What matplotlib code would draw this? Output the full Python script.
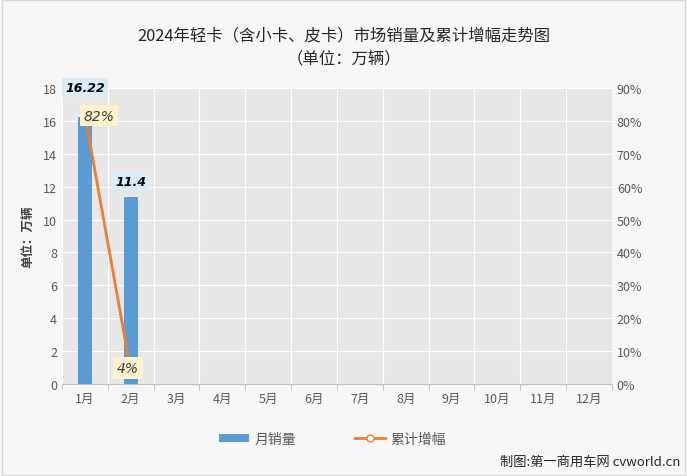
import numpy as np
import matplotlib.pyplot as plt
from matplotlib.lines import Line2D
from matplotlib.patches import Patch

plt.rcParams['font.family'] = ['Noto Sans CJK SC', 'DejaVu Sans']

# Data
Months = ['1月', '2月', '3月', '4月', '5月', '6月', '7月', '8月', '9月', '10月', '11月', '12月']
Sales = [16.22, 11.4]
Growth = [82, 4]
SalesLabels = ['16.22', '11.4']
GrowthLabels = ['82%', '4%']

BarColor = '#5b9bd5'
LineColor = '#ed7d31'

Figure = plt.figure(figsize=(6.87, 4.77), dpi=100, facecolor='#f7f7f7')
Axes = Figure.add_axes([0.0902, 0.193, 0.8006, 0.62])
Axes.set_facecolor('#e7e7e7')

x = np.arange(len(Months))
Axes.bar(x[:len(Sales)], Sales, width=0.3, color=BarColor, zorder=3)
Axes.set_xlim(-0.5, 11.5)
Axes.set_ylim(0, 18)
Axes.set_yticks(range(0, 19, 2))
Axes.set_xticks(x)
Axes.set_xticklabels(Months, fontsize=9, color='#595959')
Axes.tick_params(axis='y', labelsize=9, colors='#595959', length=0)
Axes.tick_params(axis='x', length=0, pad=6)
Axes.set_xticks(np.arange(-0.5, 12, 1), minor=True)
Axes.tick_params(axis='x', which='minor', length=4, color='#bfbfbf')
Axes.grid(True, which='major', axis='y', color='#ffffff', linewidth=0.8, zorder=0)
Axes.grid(True, which='minor', axis='x', color='#ffffff', linewidth=0.8, zorder=0)
for s in ['top', 'right', 'left']:
    Axes.spines[s].set_visible(False)
Axes.spines['bottom'].set_color('#bfbfbf')
Axes.set_ylabel('单位：万辆', fontsize=9, fontweight='bold', color='#404040', labelpad=6)

Axes2 = Axes.twinx()
Axes2.plot(x[:len(Growth)], Growth, color=LineColor, linewidth=2, marker='o',
           markersize=5, markerfacecolor='white', markeredgecolor=LineColor, zorder=4)
Axes2.set_ylim(0, 90)
Axes2.set_yticks(range(0, 91, 10))
Axes2.set_yticklabels([f'{v}%' for v in range(0, 91, 10)])
Axes2.tick_params(axis='y', labelsize=9, colors='#595959', length=0)
for s in Axes2.spines.values():
    s.set_visible(False)

# Data labels
for i, (v, t) in enumerate(zip(Sales, SalesLabels)):
    Axes.annotate(t, (x[i], v), xytext=(0, 6 if i else 17), textcoords='offset points',
                  ha='center', va='bottom', fontsize=9, fontweight='bold',
                  style='italic', family='DejaVu Sans', color='black', zorder=6,
                  annotation_clip=False,
                  bbox=dict(boxstyle='square,pad=0.25', facecolor='#ddebf7', edgecolor='none'))
Axes2.annotate(GrowthLabels[0], (x[0], Growth[0]), xytext=(-1, -1), textcoords='offset points',
               ha='left', va='center', fontsize=10, style='italic', family='DejaVu Sans',
               color='#404040', zorder=7,
               bbox=dict(boxstyle='square,pad=0.25', facecolor='#fff2cc', edgecolor='none'))
Axes2.annotate(GrowthLabels[1], (x[1], Growth[1]), xytext=(-2, 2), textcoords='offset points',
               ha='center', va='center', fontsize=10, style='italic', family='DejaVu Sans',
               color='#404040', zorder=7,
               bbox=dict(boxstyle='square,pad=0.3', facecolor='#fff2cc', edgecolor='none'))

# Title
Figure.text(0.5, 0.925, '2024年轻卡（含小卡、皮卡）市场销量及累计增幅走势图', ha='center', va='center',
            fontsize=11.8, color='#262626')
Figure.text(0.5, 0.877, '（单位：万辆）', ha='center', va='center', fontsize=11.8, color='#262626')

# Legend
Handles = [Patch(facecolor=BarColor, edgecolor='none'),
           Line2D([0], [0], color=LineColor, linewidth=2, marker='o', markersize=5,
                  markerfacecolor='white', markeredgecolor=LineColor)]
Figure.legend(Handles, ['月销量', '累计增幅'], loc='center', bbox_to_anchor=(0.484, 0.078),
              ncol=2, frameon=False, fontsize=10, labelcolor='#595959',
              columnspacing=4.2, handlelength=2.2, handletextpad=0.4, handleheight=0.5)

Figure.text(0.99, 0.03, '制图:第一商用车网 cvworld.cn', ha='right', va='center', fontsize=9.5,
            color='#262626')

# Outer border
Figure.patches.append(plt.Rectangle((0.003, 0.003), 0.994, 0.994, transform=Figure.transFigure,
                                    fill=False, edgecolor='#d9d9d9', linewidth=1))

Figure.savefig('out.png', dpi=100, facecolor=Figure.get_facecolor())
plt.close(Figure)
